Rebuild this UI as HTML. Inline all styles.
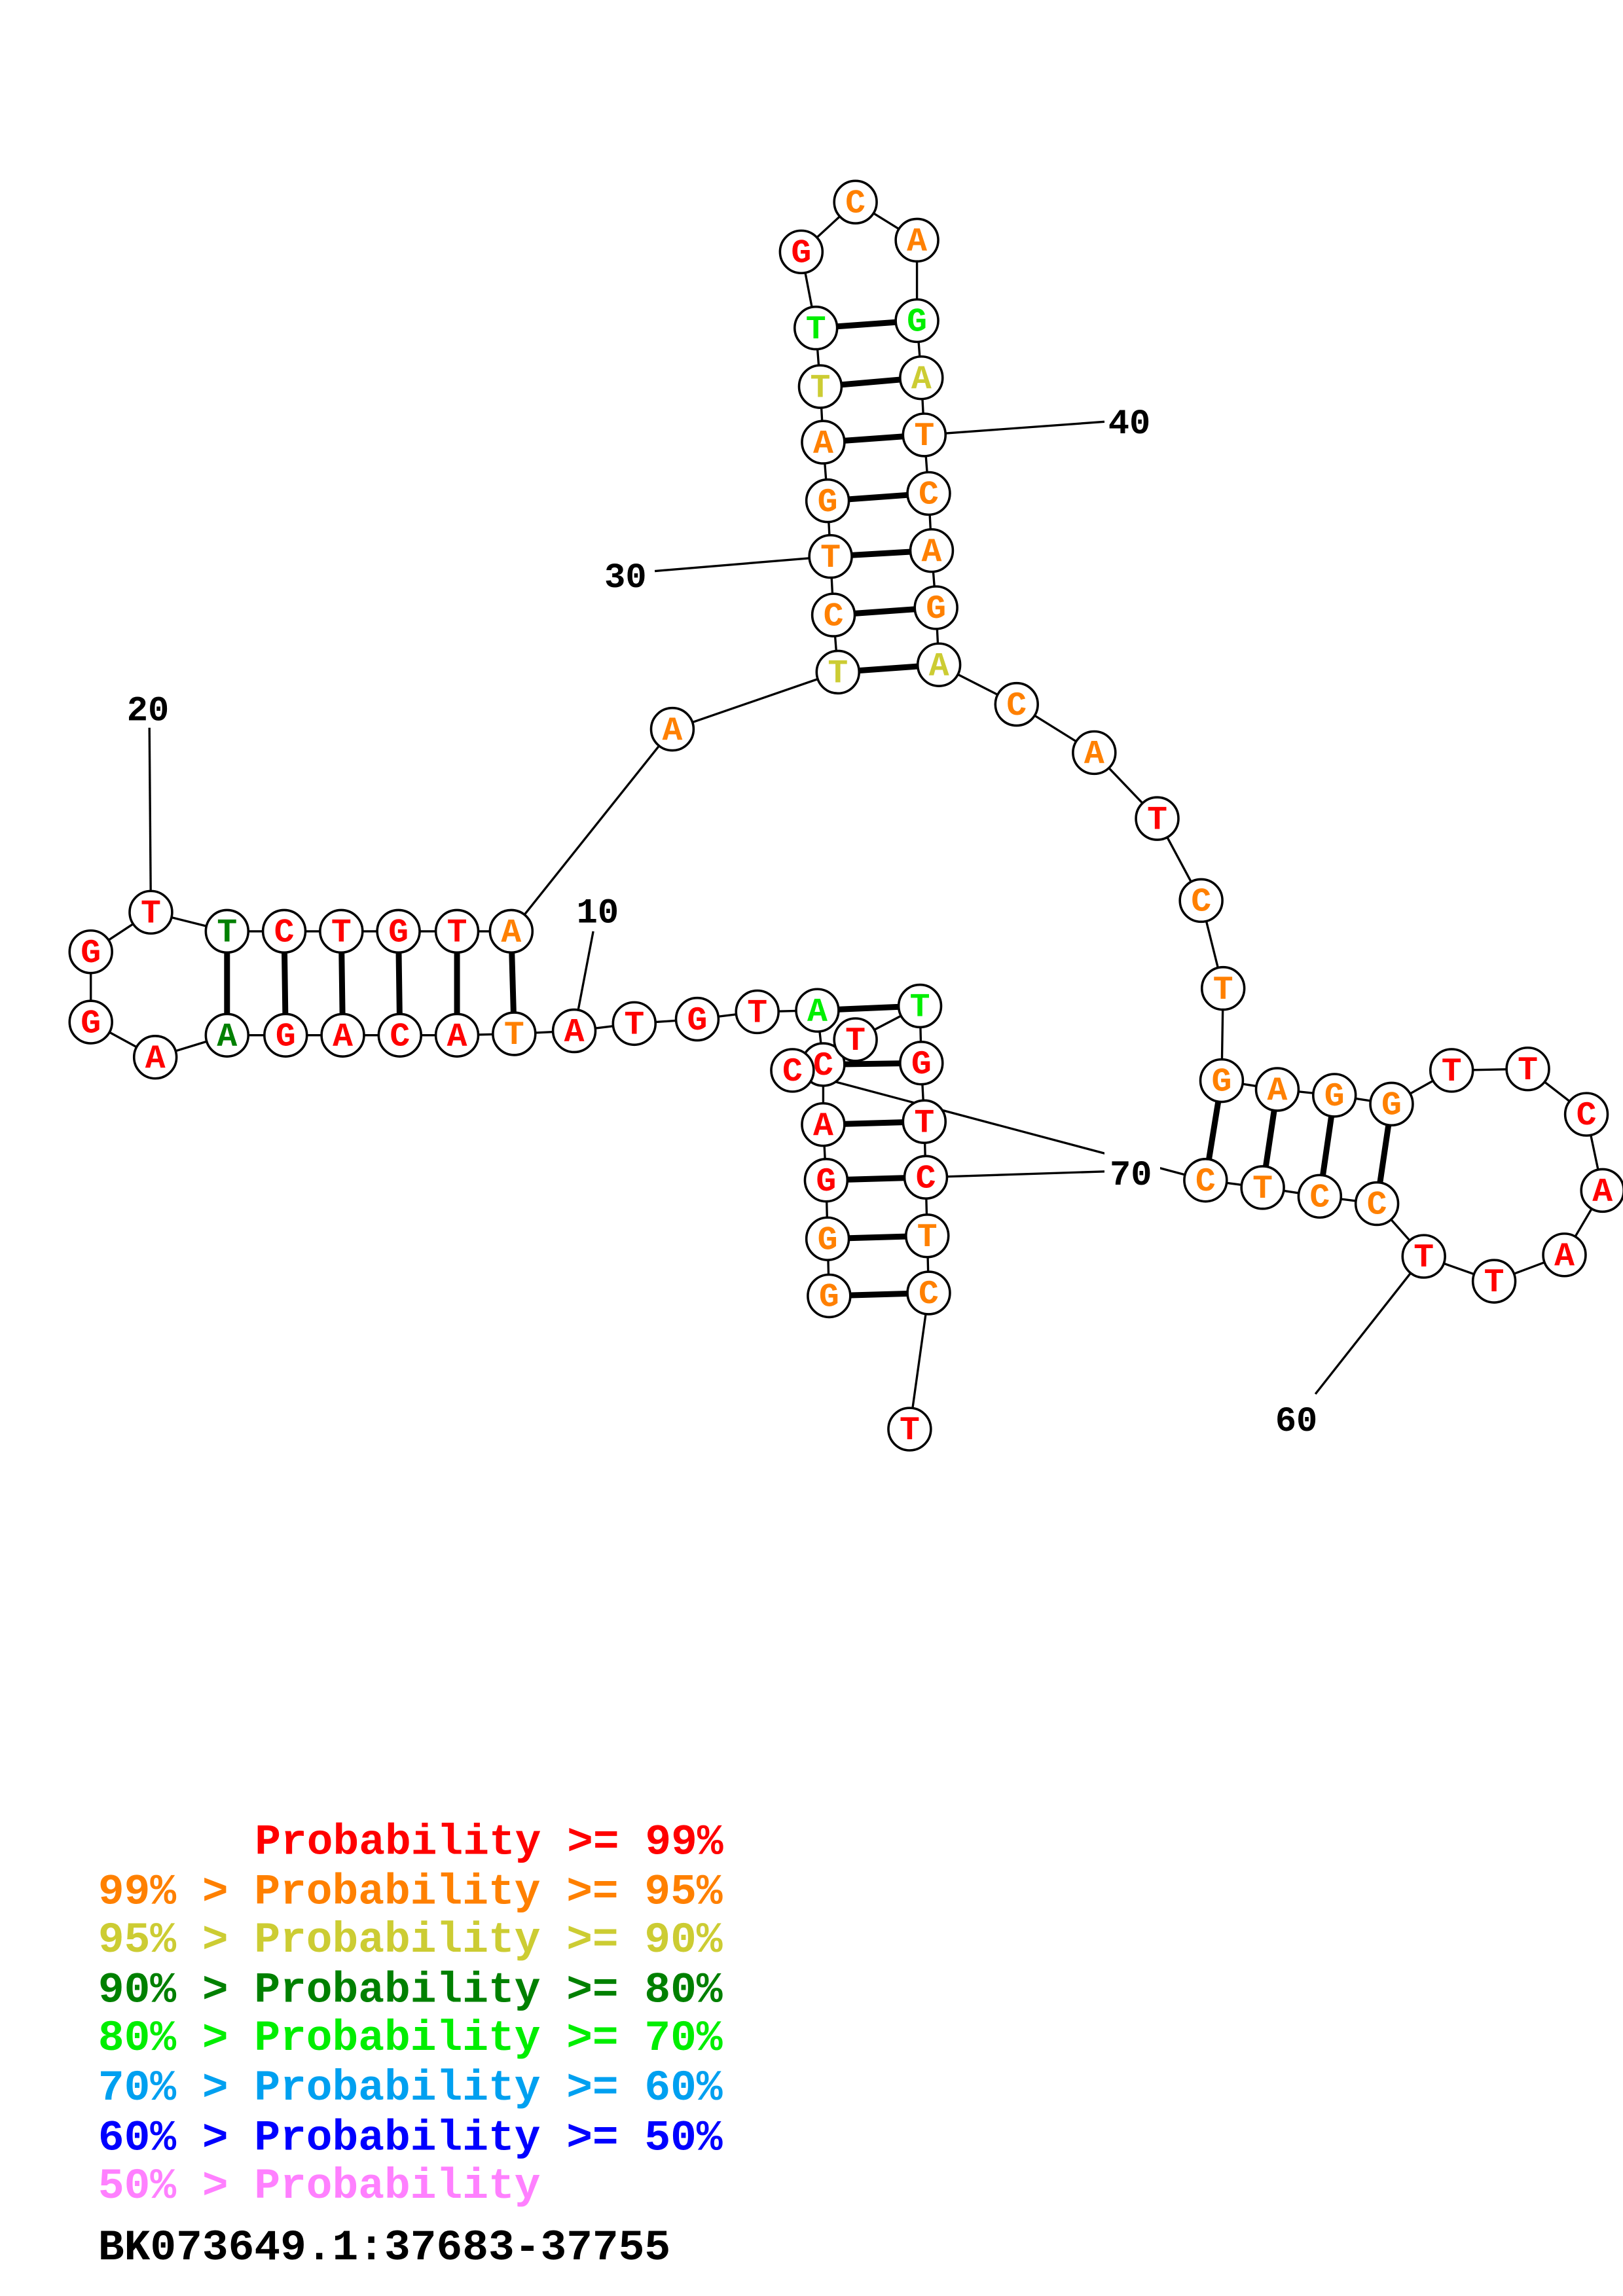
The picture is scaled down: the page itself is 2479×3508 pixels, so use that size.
<!DOCTYPE html>
<html><head><meta charset="utf-8"><style>
html,body{margin:0;padding:0;background:#fff}
svg{display:block}
text{font-family:"Liberation Mono",monospace;font-weight:bold}
.n circle{fill:#fff;stroke:#000;stroke-width:1.6}
.n text{font-size:23px;text-anchor:middle}
.r{fill:#ff0000}.o{fill:#ff8000}.y{fill:#cccc33}.d{fill:#008000}.g{fill:#00ee00}
.lb{font-size:24px;fill:#000;text-anchor:middle}
.lg{font-size:29.6px}
</style></head><body>
<svg width="2479" height="3508" viewBox="0 0 1108 1568" preserveAspectRatio="none" xmlns="http://www.w3.org/2000/svg">
<g stroke="#000" stroke-width="1.5" fill="none">
<polyline points="566,885 565,846 564,806 562,768 562,727 558,690 517,691 476,696 433,699 392,704 351,706 312,707 273,707 234,707 195,707 155,707 106,722 62,698 62,650 103,623 155,636 194,636 233,636 272,636 312,636 349,636 459,498 572,459 569,420 567,380 565,342 562,302 560,264 557,224 547,172 584,138 626,164 626,219 629,258 631,297 634,337 636,376 639,415 641,454 694,481 747,514 790,559 820,615 835,675 834,738 872,744 911,748 950,754 991,731 1043,730 1083,761 1094,813 1068,857 1020,875 972,858 940,822 901,817 862,811 823,806 541,731 584,710 628,687 629,726 631,766 632,804 633,844 634,883 621,976"/>
<line x1="405" y1="636" x2="392" y2="704"/>
<line x1="102" y1="497" x2="103" y2="623"/>
<line x1="447" y1="390" x2="567" y2="380"/>
<line x1="754" y1="288" x2="631" y2="297"/>
<line x1="898" y1="952" x2="972" y2="858"/>
<line x1="755" y1="800" x2="632" y2="804"/>
</g>
<g stroke="#000" stroke-width="4">
<line x1="155" y1="636" x2="155" y2="707"/><line x1="194" y1="636" x2="195" y2="707"/>
<line x1="233" y1="636" x2="234" y2="707"/><line x1="272" y1="636" x2="273" y2="707"/>
<line x1="312" y1="636" x2="312" y2="707"/><line x1="349" y1="636" x2="351" y2="706"/>
<line x1="572" y1="459" x2="641" y2="454"/><line x1="569" y1="420" x2="639" y2="415"/>
<line x1="567" y1="380" x2="636" y2="376"/><line x1="565" y1="342" x2="634" y2="337"/>
<line x1="562" y1="302" x2="631" y2="297"/><line x1="560" y1="264" x2="629" y2="258"/>
<line x1="557" y1="224" x2="626" y2="219"/>
<line x1="834" y1="738" x2="823" y2="806"/><line x1="872" y1="744" x2="862" y2="811"/>
<line x1="911" y1="748" x2="901" y2="817"/><line x1="950" y1="754" x2="940" y2="822"/>
<line x1="558" y1="690" x2="628" y2="687"/><line x1="562" y1="727" x2="629" y2="726"/>
<line x1="562" y1="768" x2="631" y2="766"/><line x1="564" y1="806" x2="632" y2="804"/>
<line x1="565" y1="846" x2="633" y2="844"/><line x1="566" y1="885" x2="634" y2="883"/>
</g>
<rect x="754" y="786" width="38" height="26" fill="#fff"/>
<g class="lb">
<text x="408" y="630">10</text><text x="101" y="492">20</text><text x="427" y="401">30</text>
<text x="771" y="296">40</text><text x="885" y="977">60</text><text x="772" y="809">70</text>
</g>
<g class="n">
<g><circle cx="566" cy="885" r="14.5"/><text x="566" y="892" class="o">G</text></g>
<g><circle cx="565" cy="846" r="14.5"/><text x="565" y="853" class="o">G</text></g>
<g><circle cx="564" cy="806" r="14.5"/><text x="564" y="813" class="r">G</text></g>
<g><circle cx="562" cy="768" r="14.5"/><text x="562" y="775" class="r">A</text></g>
<g><circle cx="562" cy="727" r="14.5"/><text x="562" y="734" class="r">C</text></g>
<g><circle cx="558" cy="690" r="14.5"/><text x="558" y="697" class="g">A</text></g>
<g><circle cx="517" cy="691" r="14.5"/><text x="517" y="698" class="r">T</text></g>
<g><circle cx="476" cy="696" r="14.5"/><text x="476" y="703" class="r">G</text></g>
<g><circle cx="433" cy="699" r="14.5"/><text x="433" y="706" class="r">T</text></g>
<g><circle cx="392" cy="704" r="14.5"/><text x="392" y="711" class="r">A</text></g>
<g><circle cx="351" cy="706" r="14.5"/><text x="351" y="713" class="o">T</text></g>
<g><circle cx="312" cy="707" r="14.5"/><text x="312" y="714" class="r">A</text></g>
<g><circle cx="273" cy="707" r="14.5"/><text x="273" y="714" class="r">C</text></g>
<g><circle cx="234" cy="707" r="14.5"/><text x="234" y="714" class="r">A</text></g>
<g><circle cx="195" cy="707" r="14.5"/><text x="195" y="714" class="r">G</text></g>
<g><circle cx="155" cy="707" r="14.5"/><text x="155" y="714" class="d">A</text></g>
<g><circle cx="106" cy="722" r="14.5"/><text x="106" y="729" class="r">A</text></g>
<g><circle cx="62" cy="698" r="14.5"/><text x="62" y="705" class="r">G</text></g>
<g><circle cx="62" cy="650" r="14.5"/><text x="62" y="657" class="r">G</text></g>
<g><circle cx="103" cy="623" r="14.5"/><text x="103" y="630" class="r">T</text></g>
<g><circle cx="155" cy="636" r="14.5"/><text x="155" y="643" class="d">T</text></g>
<g><circle cx="194" cy="636" r="14.5"/><text x="194" y="643" class="r">C</text></g>
<g><circle cx="233" cy="636" r="14.5"/><text x="233" y="643" class="r">T</text></g>
<g><circle cx="272" cy="636" r="14.5"/><text x="272" y="643" class="r">G</text></g>
<g><circle cx="312" cy="636" r="14.5"/><text x="312" y="643" class="r">T</text></g>
<g><circle cx="349" cy="636" r="14.5"/><text x="349" y="643" class="o">A</text></g>
<g><circle cx="459" cy="498" r="14.5"/><text x="459" y="505" class="o">A</text></g>
<g><circle cx="572" cy="459" r="14.5"/><text x="572" y="466" class="y">T</text></g>
<g><circle cx="569" cy="420" r="14.5"/><text x="569" y="427" class="o">C</text></g>
<g><circle cx="567" cy="380" r="14.5"/><text x="567" y="387" class="o">T</text></g>
<g><circle cx="565" cy="342" r="14.5"/><text x="565" y="349" class="o">G</text></g>
<g><circle cx="562" cy="302" r="14.5"/><text x="562" y="309" class="o">A</text></g>
<g><circle cx="560" cy="264" r="14.5"/><text x="560" y="271" class="y">T</text></g>
<g><circle cx="557" cy="224" r="14.5"/><text x="557" y="231" class="g">T</text></g>
<g><circle cx="547" cy="172" r="14.5"/><text x="547" y="179" class="r">G</text></g>
<g><circle cx="584" cy="138" r="14.5"/><text x="584" y="145" class="o">C</text></g>
<g><circle cx="626" cy="164" r="14.5"/><text x="626" y="171" class="o">A</text></g>
<g><circle cx="626" cy="219" r="14.5"/><text x="626" y="226" class="g">G</text></g>
<g><circle cx="629" cy="258" r="14.5"/><text x="629" y="265" class="y">A</text></g>
<g><circle cx="631" cy="297" r="14.5"/><text x="631" y="304" class="o">T</text></g>
<g><circle cx="634" cy="337" r="14.5"/><text x="634" y="344" class="o">C</text></g>
<g><circle cx="636" cy="376" r="14.5"/><text x="636" y="383" class="o">A</text></g>
<g><circle cx="639" cy="415" r="14.5"/><text x="639" y="422" class="o">G</text></g>
<g><circle cx="641" cy="454" r="14.5"/><text x="641" y="461" class="y">A</text></g>
<g><circle cx="694" cy="481" r="14.5"/><text x="694" y="488" class="o">C</text></g>
<g><circle cx="747" cy="514" r="14.5"/><text x="747" y="521" class="o">A</text></g>
<g><circle cx="790" cy="559" r="14.5"/><text x="790" y="566" class="r">T</text></g>
<g><circle cx="820" cy="615" r="14.5"/><text x="820" y="622" class="o">C</text></g>
<g><circle cx="835" cy="675" r="14.5"/><text x="835" y="682" class="o">T</text></g>
<g><circle cx="834" cy="738" r="14.5"/><text x="834" y="745" class="o">G</text></g>
<g><circle cx="872" cy="744" r="14.5"/><text x="872" y="751" class="o">A</text></g>
<g><circle cx="911" cy="748" r="14.5"/><text x="911" y="755" class="o">G</text></g>
<g><circle cx="950" cy="754" r="14.5"/><text x="950" y="761" class="o">G</text></g>
<g><circle cx="991" cy="731" r="14.5"/><text x="991" y="738" class="r">T</text></g>
<g><circle cx="1043" cy="730" r="14.5"/><text x="1043" y="737" class="r">T</text></g>
<g><circle cx="1083" cy="761" r="14.5"/><text x="1083" y="768" class="r">C</text></g>
<g><circle cx="1094" cy="813" r="14.5"/><text x="1094" y="820" class="r">A</text></g>
<g><circle cx="1068" cy="857" r="14.5"/><text x="1068" y="864" class="r">A</text></g>
<g><circle cx="1020" cy="875" r="14.5"/><text x="1020" y="882" class="r">T</text></g>
<g><circle cx="972" cy="858" r="14.5"/><text x="972" y="865" class="r">T</text></g>
<g><circle cx="940" cy="822" r="14.5"/><text x="940" y="829" class="o">C</text></g>
<g><circle cx="901" cy="817" r="14.5"/><text x="901" y="824" class="o">C</text></g>
<g><circle cx="862" cy="811" r="14.5"/><text x="862" y="818" class="o">T</text></g>
<g><circle cx="823" cy="806" r="14.5"/><text x="823" y="813" class="o">C</text></g>
<g><circle cx="584" cy="710" r="14.5"/><text x="584" y="717" class="r">T</text></g>
<g><circle cx="541" cy="731" r="14.5"/><text x="541" y="738" class="r">C</text></g>
<g><circle cx="628" cy="687" r="14.5"/><text x="628" y="694" class="g">T</text></g>
<g><circle cx="629" cy="726" r="14.5"/><text x="629" y="733" class="r">G</text></g>
<g><circle cx="631" cy="766" r="14.5"/><text x="631" y="773" class="r">T</text></g>
<g><circle cx="632" cy="804" r="14.5"/><text x="632" y="811" class="r">C</text></g>
<g><circle cx="633" cy="844" r="14.5"/><text x="633" y="851" class="o">T</text></g>
<g><circle cx="634" cy="883" r="14.5"/><text x="634" y="890" class="o">C</text></g>
<g><circle cx="621" cy="976" r="14.5"/><text x="621" y="983" class="r">T</text></g>
</g>
<g class="lg">
<text x="174" y="1266" fill="#ff0000">Probability &gt;= 99%</text>
<text x="67" y="1300" fill="#ff8000">99% &gt; Probability &gt;= 95%</text>
<text x="67" y="1333" fill="#cccc33">95% &gt; Probability &gt;= 90%</text>
<text x="67" y="1367" fill="#008000">90% &gt; Probability &gt;= 80%</text>
<text x="67" y="1400" fill="#00ee00">80% &gt; Probability &gt;= 70%</text>
<text x="67" y="1434" fill="#00a0f0">70% &gt; Probability &gt;= 60%</text>
<text x="67" y="1468" fill="#0000ff">60% &gt; Probability &gt;= 50%</text>
<text x="67" y="1501" fill="#ff80ff">50% &gt; Probability</text>
<text x="67" y="1543" fill="#000">BK073649.1:37683-37755</text>
</g>
</svg>
</body></html>
